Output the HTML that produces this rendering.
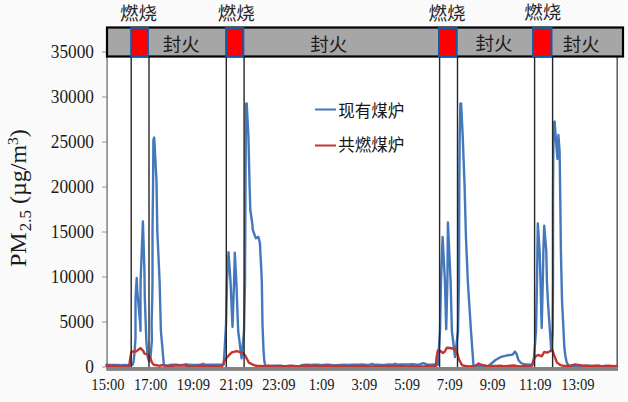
<!DOCTYPE html>
<html><head><meta charset="utf-8"><style>
html,body{margin:0;padding:0;background:#fbfbfb;}
svg{display:block;}
</style></head><body>
<svg width="628" height="402" viewBox="0 0 628 402">
<defs><pattern id="bgp" width="4" height="4" patternUnits="userSpaceOnUse"><rect width="4" height="4" fill="#fdfdfd"/><rect width="2" height="2" fill="#f8f8f8"/><rect x="2" y="2" width="2" height="2" fill="#f8f8f8"/></pattern></defs><rect width="628" height="402" fill="url(#bgp)"/>
<rect x="107" y="57" width="510" height="311" fill="#ffffff"/>
<line x1="617.2" y1="57" x2="617.2" y2="369" stroke="#5a5a5a" stroke-width="1.5"/>
<line x1="107.1" y1="57" x2="107.1" y2="369" stroke="#808080" stroke-width="1.5"/>
<line x1="102" y1="367.0" x2="107" y2="367.0" stroke="#8c8c8c" stroke-width="0.9"/>
<line x1="102" y1="322.0" x2="107" y2="322.0" stroke="#8c8c8c" stroke-width="0.9"/>
<line x1="102" y1="277.0" x2="107" y2="277.0" stroke="#8c8c8c" stroke-width="0.9"/>
<line x1="102" y1="232.0" x2="107" y2="232.0" stroke="#8c8c8c" stroke-width="0.9"/>
<line x1="102" y1="187.0" x2="107" y2="187.0" stroke="#8c8c8c" stroke-width="0.9"/>
<line x1="102" y1="142.0" x2="107" y2="142.0" stroke="#8c8c8c" stroke-width="0.9"/>
<line x1="102" y1="97.0" x2="107" y2="97.0" stroke="#8c8c8c" stroke-width="0.9"/>
<line x1="102" y1="52.0" x2="107" y2="52.0" stroke="#8c8c8c" stroke-width="0.9"/>
<path d="M106.5 364.8 L110.2 364.9 L113.9 364.9 L117.6 365.0 L121.4 365.1 L125.1 364.9 L128.8 365.1 L132.5 364.8 L133.5 362.0 L134.6 352.0 L135.5 338.0 L135.5 300.0 L136.0 290.0 L136.7 278.0 L137.2 290.0 L137.9 298.0 L140.2 324.0 L140.5 330.9 L140.5 296.0 L140.6 281.0 L142.9 221.5 L144.4 270.0 L144.8 298.0 L146.3 340.0 L147.7 357.5 L149.2 361.5 L150.5 357.5 L151.9 340.0 L151.6 324.0 L152.3 296.0 L152.5 281.0 L152.5 231.0 L153.1 181.0 L153.4 140.0 L154.2 137.6 L156.5 181.0 L157.3 231.0 L159.6 281.0 L160.9 331.0 L163.8 363.8 L164.5 365.3 L168.0 365.6 L170.0 364.9 L173.5 364.6 L177.0 364.8 L180.5 365.1 L184.0 364.8 L186.0 364.2 L188.0 364.8 L192.3 364.9 L196.7 365.0 L201.0 364.8 L203.0 363.8 L205.0 364.8 L208.7 364.6 L212.4 364.8 L216.2 364.6 L219.9 364.8 L223.6 364.8 L224.6 350.0 L226.0 325.0 L227.0 281.0 L228.5 252.2 L230.5 281.0 L232.5 327.0 L234.1 281.0 L234.8 252.8 L236.3 281.0 L238.2 331.0 L241.6 358.3 L244.0 331.0 L245.0 281.0 L245.5 186.0 L245.8 136.0 L246.0 103.6 L246.7 103.4 L248.4 136.0 L249.6 186.0 L250.3 210.0 L252.2 223.0 L252.8 230.0 L255.9 238.3 L258.4 236.9 L259.9 243.0 L260.5 255.0 L261.2 268.0 L261.8 281.0 L262.5 325.0 L263.5 350.0 L264.2 360.0 L265.2 365.8 L269.1 365.9 L272.9 365.6 L276.8 365.7 L280.7 365.8 L284.5 366.2 L288.4 366.1 L292.3 365.8 L296.1 366.2 L300.0 366.0 L303.0 364.9 L306.7 364.7 L310.4 365.0 L314.1 364.7 L317.8 364.6 L321.5 365.1 L325.2 364.7 L328.9 364.7 L332.6 365.2 L336.3 365.1 L340.0 364.9 L343.8 364.7 L347.5 365.0 L351.2 364.7 L355.0 364.6 L358.8 364.7 L362.5 364.5 L366.2 364.9 L370.0 364.7 L372.0 363.9 L374.0 364.6 L377.8 364.7 L381.6 364.9 L385.4 364.8 L389.2 364.5 L393.0 364.6 L395.0 363.8 L398.0 364.6 L401.5 364.5 L405.0 364.4 L408.5 364.4 L412.0 364.3 L415.5 364.5 L419.0 364.6 L423.2 363.1 L427.0 364.5 L430.6 364.7 L434.2 364.4 L437.8 364.8 L440.0 331.0 L441.0 281.0 L442.6 236.9 L444.9 281.0 L446.2 329.1 L447.4 281.0 L447.9 222.5 L450.6 281.0 L451.9 331.0 L455.0 357.0 L458.0 331.0 L459.0 281.0 L459.3 186.0 L459.7 136.0 L460.4 103.6 L461.1 103.4 L462.7 136.0 L464.6 186.0 L465.9 236.0 L467.8 281.0 L471.0 331.0 L473.5 365.8 L480.0 366.2 L484.2 366.2 L488.5 366.0 L495.5 360.0 L501.2 356.8 L508.2 355.2 L512.7 354.6 L514.8 351.6 L516.5 353.7 L518.4 360.0 L521.0 363.0 L524.8 364.5 L531.1 364.8 L533.5 364.0 L536.0 331.0 L537.0 281.0 L537.8 223.4 L539.6 251.0 L540.5 281.0 L541.7 327.9 L542.8 281.0 L543.4 251.0 L544.2 225.7 L546.3 251.0 L546.9 281.0 L547.9 301.0 L549.3 322.0 L551.3 351.0 L552.6 331.0 L553.0 281.0 L553.0 201.0 L553.3 151.0 L554.2 122.0 L554.6 121.5 L557.4 159.0 L558.4 135.0 L559.6 151.0 L560.3 201.0 L560.9 251.0 L562.0 300.0 L563.9 338.0 L564.3 347.0 L565.4 356.0 L566.6 362.0 L568.5 365.8 L572.2 365.7 L576.0 365.7 L579.7 366.1 L583.4 365.9 L587.2 365.8 L590.9 366.0 L594.6 366.1 L598.3 365.8 L602.1 366.4 L605.8 365.8 L609.5 366.3 L613.3 366.4 L617.0 366.2" fill="none" stroke="#4478BC" stroke-width="2.4" stroke-linejoin="round" stroke-linecap="round"/>
<path d="M106.5 366.0 L110.3 365.8 L114.1 366.0 L117.8 365.9 L121.6 366.1 L125.4 366.1 L129.2 366.0 L130.0 360.0 L131.3 352.3 L133.0 351.2 L135.8 351.6 L138.0 350.0 L140.4 348.1 L143.2 350.9 L144.6 353.7 L147.7 354.7 L150.2 357.5 L151.9 362.4 L154.0 364.9 L156.8 365.2 L159.6 365.9 L161.7 365.1 L164.2 365.6 L170.0 366.2 L175.0 365.5 L180.0 365.6 L185.0 365.5 L190.0 366.2 L193.8 366.5 L197.5 365.9 L201.2 365.8 L205.0 366.0 L209.3 366.4 L213.6 366.0 L217.9 366.3 L222.2 366.0 L224.5 361.0 L227.3 356.8 L231.8 352.4 L236.8 351.1 L243.2 353.0 L245.8 356.8 L248.9 362.6 L254.7 365.5 L258.0 366.0 L261.5 366.0 L265.0 366.1 L268.5 365.7 L272.0 366.1 L275.5 366.3 L279.0 366.0 L282.5 366.2 L286.0 366.2 L289.5 365.6 L293.0 366.2 L296.5 366.1 L300.0 366.0 L303.8 365.8 L307.5 365.5 L311.2 366.2 L315.0 365.8 L318.8 365.9 L322.5 366.0 L326.2 365.8 L330.0 365.6 L333.8 366.1 L337.5 365.7 L341.2 366.1 L345.0 365.9 L348.8 366.4 L352.5 366.4 L356.2 365.8 L360.0 366.2 L363.6 365.9 L367.3 365.9 L370.9 366.6 L374.5 366.1 L378.2 366.2 L381.8 365.9 L385.5 366.1 L389.1 366.0 L392.7 365.9 L396.4 366.1 L400.0 366.0 L403.6 366.1 L407.2 366.4 L410.8 366.2 L414.4 366.4 L417.9 366.3 L421.5 366.4 L425.1 366.2 L428.7 365.7 L432.3 366.3 L435.9 366.0 L436.5 358.0 L437.8 350.5 L440.4 351.0 L442.9 353.0 L444.5 352.0 L446.8 347.7 L450.0 348.0 L454.4 349.0 L456.9 352.4 L458.9 359.4 L462.0 365.1 L465.0 366.0 L470.0 366.4 L475.0 366.0 L478.6 363.5 L482.0 365.0 L486.0 365.8 L489.5 366.2 L493.0 365.9 L496.5 366.0 L500.1 365.6 L503.6 366.2 L507.1 366.0 L510.6 365.7 L514.1 365.5 L517.6 366.3 L521.2 366.4 L524.7 365.6 L528.2 366.3 L531.7 366.0 L533.5 360.0 L536.0 355.8 L538.9 355.0 L541.7 356.3 L544.2 352.0 L547.4 352.6 L549.5 351.5 L552.1 349.5 L554.0 354.8 L556.9 362.4 L560.6 365.2 L564.0 366.0 L570.0 365.8 L575.0 364.5 L582.0 365.5 L586.0 365.7 L590.0 366.0 L593.9 365.7 L597.7 365.8 L601.6 366.2 L605.4 366.3 L609.3 365.6 L613.1 366.1 L617.0 366.0" fill="none" stroke="#C23531" stroke-width="2.4" stroke-linejoin="round" stroke-linecap="round"/>
<line x1="131.2" y1="56" x2="131.2" y2="367" stroke="#262626" stroke-width="1.4"/>
<line x1="149.0" y1="56" x2="149.0" y2="367" stroke="#262626" stroke-width="1.4"/>
<line x1="226.3" y1="56" x2="226.3" y2="367" stroke="#262626" stroke-width="1.4"/>
<line x1="244.1" y1="56" x2="244.1" y2="367" stroke="#262626" stroke-width="1.4"/>
<line x1="439.6" y1="56" x2="439.6" y2="367" stroke="#262626" stroke-width="1.4"/>
<line x1="457.5" y1="56" x2="457.5" y2="367" stroke="#262626" stroke-width="1.4"/>
<line x1="534.6" y1="56" x2="534.6" y2="367" stroke="#262626" stroke-width="1.4"/>
<line x1="552.6" y1="56" x2="552.6" y2="367" stroke="#262626" stroke-width="1.4"/>
<rect x="106.3" y="367" width="511.7" height="3.9" fill="#838383"/>
<rect x="107" y="27.5" width="516" height="29" fill="#A6A6A6" stroke="#000" stroke-width="2.2"/>
<rect x="131.2" y="27.9" width="16.7" height="28.5" fill="#FF0000" stroke="#1259A8" stroke-width="2"/>
<rect x="226.1" y="27.9" width="17.2" height="28.5" fill="#FF0000" stroke="#1259A8" stroke-width="2"/>
<rect x="439.0" y="27.9" width="17.7" height="28.5" fill="#FF0000" stroke="#1259A8" stroke-width="2"/>
<rect x="533.1" y="27.9" width="18.4" height="28.5" fill="#FF0000" stroke="#1259A8" stroke-width="2"/>
<g font-family="'Liberation Sans', 'Noto Sans CJK SC', sans-serif" font-size="18.5" fill="#262626"><text x="120.1" y="20.1">燃烧</text><text x="217.8" y="20.1">燃烧</text><text x="428.6" y="20.1">燃烧</text><text x="524.3" y="19.1">燃烧</text></g>
<g font-family="'Liberation Sans', 'Noto Sans CJK SC', sans-serif" font-size="18.5" fill="#1c1c1c"><text x="162.8" y="50.9">封火</text><text x="310.2" y="50.9">封火</text><text x="475.6" y="49.9">封火</text><text x="562.8" y="50.9">封火</text></g>
<line x1="315" y1="109.5" x2="336" y2="109.5" stroke="#4478BC" stroke-width="2"/>
<line x1="315" y1="145.5" x2="336" y2="145.5" stroke="#C23531" stroke-width="2"/>
<g font-family="'Liberation Sans', 'Noto Sans CJK SC', sans-serif" font-size="16.5" fill="#161616"><text x="338.2" y="116.5">现有煤炉</text><text x="338.2" y="151.1">共燃煤炉</text></g>
<g font-family="Liberation Serif, serif" font-size="17.3" fill="#1a1a1a"><text transform="translate(94 372.8) scale(1 1.07)" text-anchor="end">0</text><text transform="translate(94 327.8) scale(1 1.07)" text-anchor="end">5000</text><text transform="translate(94 282.8) scale(1 1.07)" text-anchor="end">10000</text><text transform="translate(94 237.8) scale(1 1.07)" text-anchor="end">15000</text><text transform="translate(94 192.8) scale(1 1.07)" text-anchor="end">20000</text><text transform="translate(94 147.8) scale(1 1.07)" text-anchor="end">25000</text><text transform="translate(94 102.8) scale(1 1.07)" text-anchor="end">30000</text><text transform="translate(94 57.8) scale(1 1.07)" text-anchor="end">35000</text></g>
<g font-family="Liberation Serif, serif" font-size="14.6" fill="#1a1a1a"><text transform="translate(108.0 389.6) scale(1 1.09)" text-anchor="middle">15:00</text><text transform="translate(150.7 389.6) scale(1 1.09)" text-anchor="middle">17:00</text><text transform="translate(193.5 389.6) scale(1 1.09)" text-anchor="middle">19:09</text><text transform="translate(236.2 389.6) scale(1 1.09)" text-anchor="middle">21:09</text><text transform="translate(278.9 389.6) scale(1 1.09)" text-anchor="middle">23:09</text><text transform="translate(321.6 389.6) scale(1 1.09)" text-anchor="middle">1:09</text><text transform="translate(364.4 389.6) scale(1 1.09)" text-anchor="middle">3:09</text><text transform="translate(407.1 389.6) scale(1 1.09)" text-anchor="middle">5:09</text><text transform="translate(449.8 389.6) scale(1 1.09)" text-anchor="middle">7:09</text><text transform="translate(492.6 389.6) scale(1 1.09)" text-anchor="middle">9:09</text><text transform="translate(535.3 389.6) scale(1 1.09)" text-anchor="middle">11:09</text><text transform="translate(578.0 389.6) scale(1 1.09)" text-anchor="middle">13:09</text></g>
<text transform="translate(26.3 267) rotate(-90)" font-family="Liberation Serif, serif" font-size="24" fill="#1a1a1a">PM<tspan font-size="17" dx="1" dy="5">2.5</tspan><tspan dy="-5"> (µg/m</tspan><tspan font-size="15.5" dy="-8">3</tspan><tspan dy="8">)</tspan></text>
</svg>
</body></html>
